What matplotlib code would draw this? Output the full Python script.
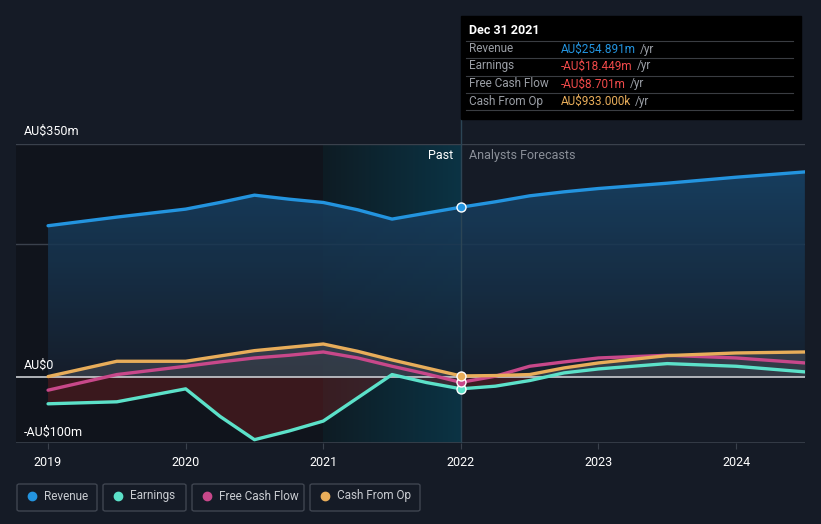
import numpy as np
import matplotlib
matplotlib.use("Agg")
import matplotlib.pyplot as plt
from matplotlib.patches import FancyBboxPatch, Rectangle

plt.rcParams['font.family'] = ['Roboto', 'DejaVu Sans']

# data (AU$ m)
years_past = [2019.0, 2019.5, 2020.0, 2020.25, 2020.5, 2020.75, 2021.0, 2021.25, 2021.5, 2021.75, 2022.0]
years_fc = [2022.0, 2022.25, 2022.5, 2022.75, 2023.0, 2023.5, 2024.0, 2024.5]

revenue_past = [227, 240, 252, 262, 273, 267, 262, 251, 237, 246, 254.891]
earnings_past = [-41, -38, -18.5, -60, -95, -82, -67, -32, 3, -9, -18.449]
fcf_past = [-20.5, 3, 15.5, 22, 28, 32, 37, 28, 15.5, 4, -8.701]
cfo_past = [0, 23, 23, 31, 39, 44, 49, 38, 25, 13, 0.933]

revenue_fc = [254.891, 263, 272, 278, 283, 291, 300, 308]
earnings_fc = [-18.449, -14.5, -6, 5.5, 11.5, 19.5, 15.5, 7]
fcf_fc = [-8.701, 0.5, 15.5, 22, 28, 32, 28, 20.5]
cfo_fc = [0.933, 1.5, 3, 13, 20.5, 31.5, 35.5, 37]

series_names = ["Revenue", "Earnings", "Free Cash Flow", "Cash From Op"]
colors = ["#2394df", "#5ce1c9", "#c8488a", "#e8ad5a"]

tooltip_date = "Dec 31 2021"
tooltip_vals = ["AU$254.891m", "-AU$18.449m", "-AU$8.701m", "AU$933.000k"]
tooltip_cols = ["#2394df", "#f04a4a", "#f04a4a", "#e8ad5a"]

bg = "#151b26"
fig = plt.figure(figsize=(8.21, 5.24), dpi=100, facecolor=bg)
ax = fig.add_axes([16 / 821, 1 - 443 / 524, 789 / 821, 299 / 524])
ax.set_facecolor(bg)
x0, x1 = 2018.767, 2024.501
ax.set_xlim(x0, x1)
ax.set_ylim(-100, 350)

# past shading
ax.add_patch(Rectangle((x0, -100), 2021 - x0, 450, color="#10141c", zorder=0, lw=0))
grad = np.linspace(0, 1, 200).reshape(1, -1)
ax.imshow(grad, extent=[2021, 2022, -100, 350], aspect="auto", cmap=matplotlib.colors.LinearSegmentedColormap.from_list(
    "p", ["#0e1c24", "#0b3344"]), zorder=0.5)

# grid lines
for yv in [350, 200]:
    ax.axhline(yv, color="#3a414c", lw=1, zorder=1)
ax.axhline(-100, color="#3a414c", lw=1.2, zorder=1)
ax.axhline(0, color="#c9ccd1", lw=1.2, zorder=3)

yrs = np.array(years_past + years_fc[1:])
rev = np.array(revenue_past + revenue_fc[1:])
ear = np.array(earnings_past + earnings_fc[1:])
fcf = np.array(fcf_past + fcf_fc[1:])
cfo = np.array(cfo_past + cfo_fc[1:])

# revenue gradient fill
poly = ax.fill_between(yrs, 0, rev, color="none", lw=0)
img = ax.imshow(np.linspace(1, 0, 256).reshape(-1, 1), extent=[x0, x1, 0, 320], aspect="auto",
                cmap=matplotlib.colors.LinearSegmentedColormap.from_list("r", ["#16202e", "#18456a"]),
                zorder=1.5, alpha=0.85)
img.set_clip_path(poly.get_paths()[0], transform=ax.transData)

# earnings / cash fills
ax.fill_between(yrs, 0, ear, where=ear < 0, interpolate=True, color="#8a2020", alpha=0.35, lw=0, zorder=2)
ax.fill_between(yrs, 0, cfo, where=cfo > 0, interpolate=True, color="#6b6e75", alpha=0.35, lw=0, zorder=2)

ax.axvline(2022, color="#2c4555", lw=1, zorder=2.5)

for vals, c in zip([rev, ear, fcf, cfo], colors):
    ax.plot(yrs, vals, color=c, lw=2.4, zorder=4, solid_capstyle="round", solid_joinstyle="round")

# markers at Dec 2021
for vals, c in zip([revenue_past, earnings_past, fcf_past, cfo_past], colors):
    ax.scatter([2022], [vals[-1]], s=42, color=c, edgecolor="white", lw=1, zorder=6)

for s in ax.spines.values():
    s.set_visible(False)
ax.set_yticks([])
ax.set_xticks([2019, 2020, 2021, 2022, 2023, 2024])
ax.set_xticklabels(["2019", "2020", "2021", "2022", "2023", "2024"], color="white", fontsize=9)
ax.tick_params(axis="x", length=4, color="#3a414c", pad=5)

# y labels
fig.text(24 / 821, 1 - 131 / 524, "AU$350m", color="white", fontsize=9, va="center")
fig.text(24 / 821, 1 - 365 / 524, "AU$0", color="white", fontsize=9, va="center")
fig.text(24 / 821, 1 - 432 / 524, "-AU$100m", color="white", fontsize=9, va="center")

fig.text(453 / 821, 1 - 156 / 524, "Past", color="white", fontsize=9, ha="right", va="center")
fig.text(469 / 821, 1 - 156 / 524, "Analysts Forecasts", color="#8a8f98", fontsize=9, ha="left", va="center")

# tooltip
fig.patches.append(Rectangle((461 / 821, 1 - 119 / 524), 340 / 821, 103 / 524, transform=fig.transFigure,
                             color="#000000", zorder=10))
fig.add_artist(plt.Line2D([461 / 821] * 2, [1 - 144 / 524, 1 - 119 / 524], color="#2c4555", lw=1))
fig.text(469 / 821, 1 - 31 / 524, tooltip_date, color="white", fontsize=9, fontweight="bold", va="center", zorder=11)
rows_y = [49, 66, 84, 101]
for i, (name, val, c) in enumerate(zip(series_names, tooltip_vals, tooltip_cols)):
    yy = 1 - rows_y[i] / 524
    fig.add_artist(plt.Line2D([466 / 821, 793 / 821], [1 - (rows_y[i] - 8.5) / 524] * 2, color="#3a3d42", lw=0.8, zorder=11))
    fig.text(469 / 821, yy, name, color="#9a9ea5", fontsize=8.5, va="center", zorder=11)
    t = fig.text(561 / 821, yy, val, color=c, fontsize=8.5, va="center", zorder=11)
    fig.canvas.draw()
    bb = t.get_window_extent()
    fig.text((bb.x1 + 4) / 821, yy, "/yr", color="#9a9ea5", fontsize=8.5, va="center", zorder=11)
fig.add_artist(plt.Line2D([466 / 821, 793 / 821], [1 - 110 / 524] * 2, color="#3a3d42", lw=0.8, zorder=11))

# legend boxes
boxes = [(17, 97), (103, 186), (192, 304), (310, 420)]
for (bx0, bx1), name, c in zip(boxes, series_names, colors):
    fig.patches.append(FancyBboxPatch((bx0 / 821, 1 - 511 / 524), (bx1 - bx0) / 821, 27 / 524,
                                      boxstyle="round,pad=0,rounding_size=0.003", transform=fig.transFigure,
                                      facecolor=bg, edgecolor="#3f4550", lw=1))
    fig.add_artist(plt.Line2D([(bx0 + 15) / 821], [1 - 496 / 524], marker="o", markersize=6,
                              color=c, transform=fig.transFigure))
    fig.text((bx0 + 27) / 821, 1 - 496 / 524, name, color="#c9ccd1", fontsize=8.5, va="center")

fig.savefig("out.png", dpi=100, facecolor=bg)
